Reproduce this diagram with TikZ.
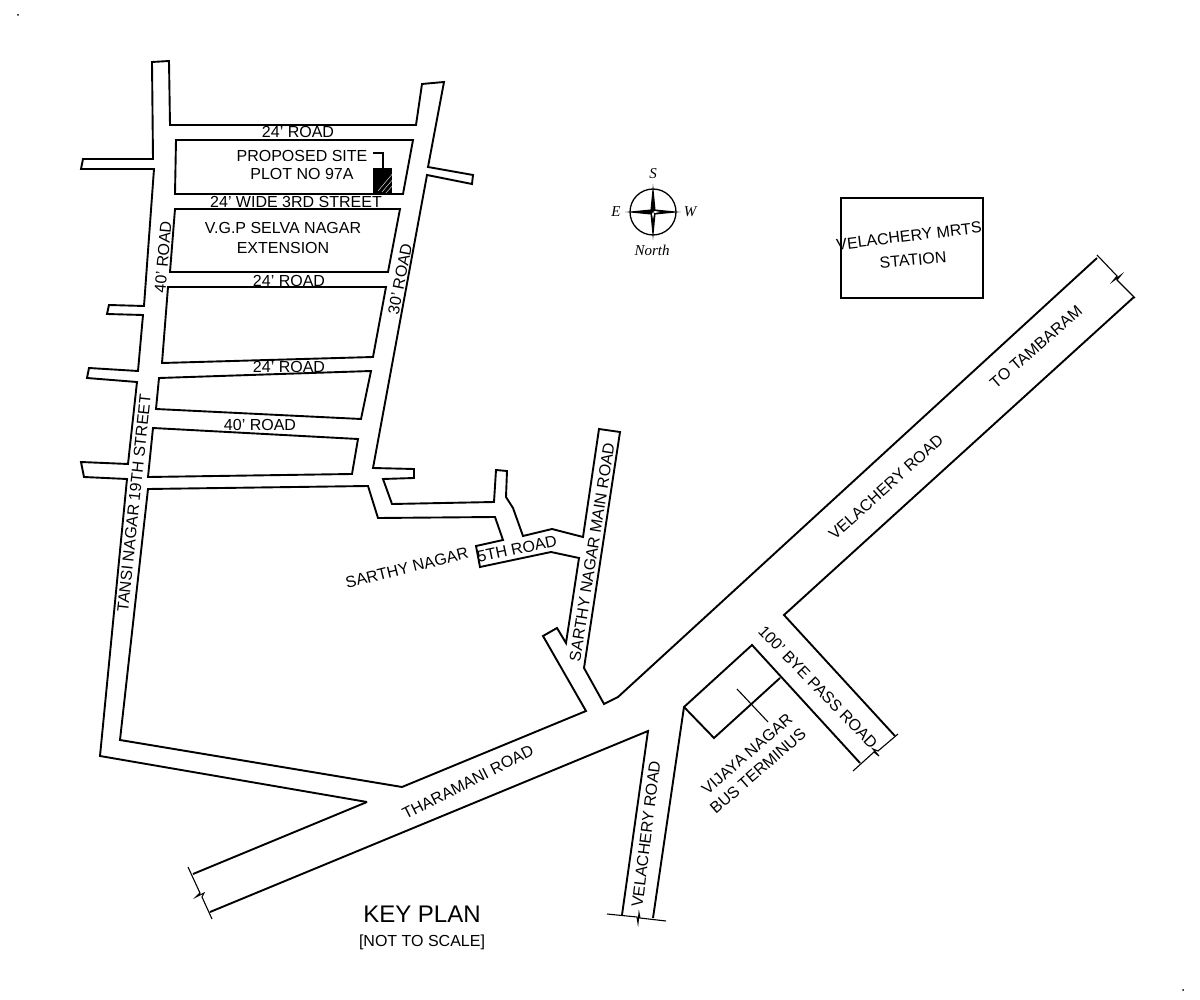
\documentclass[tikz,border=0pt]{standalone}
\usepackage{fontspec}
\setmainfont{Liberation Sans}[Ligatures=ResetAll]
\newfontfamily\compassfont{Liberation Serif}
\tikzset{
  roadline/.style={draw=black,line width=1.9pt,line join=miter},
  thinline/.style={draw=black,line width=1.1pt},
  lbl/.style={inner sep=0pt,font=\fontsize{16}{18.5}\selectfont,align=center},
  dirlbl/.style={inner sep=0pt,font=\compassfont\itshape\fontsize{15}{17}\selectfont}
}
\begin{document}
\begin{tikzpicture}[x=1pt,y=-1pt]
  \useasboundingbox (0,0) rectangle (1200,1000);
  % road outline
  \draw[roadline] (367,802) -- (100,756) -- (127,479) -- (84,477) -- (81,462) -- (128,464) -- (137,382)
    -- (87,378) -- (89,368) -- (138,371) -- (143,315) -- (107,314) -- (109,305) -- (144,306) -- (154,169)
    -- (81,169) -- (83,159) -- (153,159) -- (152,62) -- (169,61) -- (170,125) -- (416,125) -- (422,84)
    -- (444,82) -- (428,167) -- (473,175) -- (472,184) -- (427,175) -- (373,468) -- (414,469) -- (414,478)
    -- (383,479) -- (392,504) -- (494,502) -- (496,470) -- (507,471) -- (506,497) -- (513,508) -- (523,536)
    -- (552,529) -- (583,537) -- (599,429) -- (620,432) -- (584,668) -- (604,704) -- (618,697) -- (1097,258);
  \draw[roadline] (1134,297) -- (784,615) -- (895,736);
  \draw[roadline] (860,763) -- (752,645) -- (684,707) -- (653,918);
  \draw[roadline] (622,915) -- (648,731) -- (210,912);
  \draw[roadline] (193,874) -- (367,802);
  \draw[roadline] (148,489) -- (368,486) -- (378,518) -- (495,517) -- (503,540) -- (476,546) -- (480,567)
    -- (551,552) -- (579,558) -- (566,643) -- (557,628) -- (543,636) -- (586,711) -- (402,787) -- (120,740) -- cycle;
  % blocks
  \draw[roadline] (176,140) -- (413,140) -- (403,194) -- (175,194) -- cycle;
  \draw[roadline] (175,209) -- (400,209) -- (388,272) -- (170,272) -- cycle;
  \draw[roadline] (168,287) -- (386,287) -- (373,357) -- (162,363) -- cycle;
  \draw[roadline] (159,378) -- (371,371) -- (361,419) -- (156,409) -- cycle;
  \draw[roadline] (153,428) -- (358,439) -- (352,474) -- (148,477) -- cycle;
  % bus terminus
  \draw[roadline] (684,707) -- (714,738) -- (780,678);
  \draw[thinline] (737,689) -- (768,722);
  % break lines
  \draw[thinline] (1097,255) -- (1117,276) -- (1113,281) -- (1121,275) -- (1117,280) -- (1135,298);
  \draw[thinline] (853,771) -- (874,752) -- (879,756) -- (873,749) -- (878,751) -- (898,734);
  \draw[thinline] (607,914) -- (637,917) -- (638,923) -- (639,913) -- (640,918) -- (666,921);
  \draw[thinline] (188,867) -- (200,893) -- (196,897) -- (204,893) -- (202,897) -- (212,919);
  % site
  \fill[black] (373,168) rectangle (392,193);
  \begin{scope}
    \clip (373,168) rectangle (392,193);
    \draw[white,line width=.4pt] (378,191) -- (394,172) (382,192) -- (394,178) (386,193) -- (394,184);
  \end{scope}
  \draw[thinline] (373,153) -- (383,153) -- (383,168);
  % station box
  \draw[draw=black,line width=2.4pt] (841,198) rectangle (983,298);
  % compass
  \draw[draw=black,line width=1.3pt] (653,212) circle (23pt);
  \fill[black] (653,184) -- (655.5,209.5) -- (681,212) -- (655.5,214.5) -- (653,240) -- (650.5,214.5) -- (625,212) -- (650.5,209.5) -- cycle;
  \fill[white] (653,212) -- (655,211) -- (660,212) -- (655,213) -- cycle;
  \fill[white] (653,212) -- (654,214) -- (653,219) -- (652,214) -- cycle;
  % small dots
  \fill[black] (18,15) circle (1pt);
  \fill[black] (1183,990) circle (1pt);
  % labels
  \node[lbl] (rd1) at (298,132) {24' ROAD};
  \node[lbl] (site) at (302,165) {PROPOSED SITE\\PLOT NO 97A};
  \node[lbl] (st3) at (296,202) {24' WIDE 3RD STREET};
  \node[lbl] (vgp) at (283,238) {V.G.P SELVA NAGAR\\[2pt]EXTENSION};
  \node[lbl] (rd2) at (289,281) {24' ROAD};
  \node[lbl] (rd3) at (289,367) {24' ROAD};
  \node[lbl] (rd4) at (260,425) {40' ROAD};
  \node[lbl,rotate=85] (rd5) at (163,257) {40' ROAD};
  \node[lbl,rotate=79] (rd6) at (400,279) {30' ROAD};
  \node[lbl,rotate=84] (tansi) at (134,503) {TANSI NAGAR 19TH STREET};
  \node[lbl,rotate=14] (sarthy) at (407,568) {SARTHY NAGAR};
  \node[lbl,rotate=12] (fifth) at (517,549) {5TH ROAD};
  \node[lbl,rotate=81] (mainrd) at (592,552) {SARTHY NAGAR MAIN ROAD};
  \node[lbl,rotate=27] (thara) at (468,782) {THARAMANI ROAD};
  \node[lbl,rotate=83] (vel1) at (646,834) {VELACHERY ROAD};
  \node[lbl,rotate=41] (vijaya) at (747,754) {VIJAYA NAGAR};
  \node[lbl,rotate=41] (bus) at (758,771) {BUS TERMINUS};
  \node[lbl,rotate=-46] (bye) at (818,687) {100' BYE PASS ROAD};
  \node[lbl,rotate=42] (vel2) at (886,487) {VELACHERY ROAD};
  \node[lbl,rotate=41] (tamb) at (1036,347) {TO TAMBARAM};
  \node[lbl,rotate=7] (mrts) at (909,236) {VELACHERY MRTS};
  \node[lbl,rotate=5] (stn) at (913,260) {STATION};
  \node[lbl,font=\fontsize{24}{26}\selectfont] (key) at (422,914) {KEY PLAN};
  \node[lbl] (scale) at (422,942) {[NOT TO SCALE]};
  \node[dirlbl] (dirs) at (653,174) {S};
  \node[dirlbl] (dire) at (616,212) {E};
  \node[dirlbl] (dirw) at (690,212) {W};
  \node[dirlbl] (dirn) at (652,250) {North};
\end{tikzpicture}
\end{document}
